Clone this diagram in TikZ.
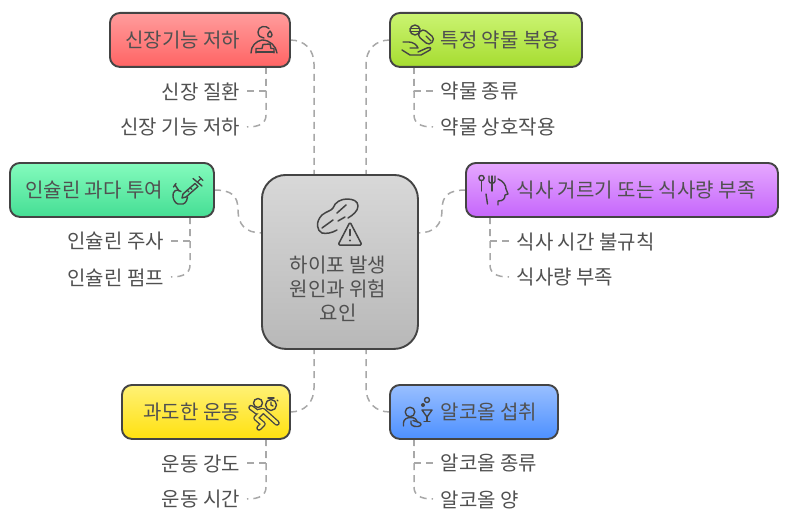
\documentclass[tikz,border=0pt]{standalone}
\usepackage{fontspec}
\setmainfont{Noto Sans CJK KR}
\usetikzlibrary{calc}
\definecolor{ink}{HTML}{444444}
\definecolor{txt}{HTML}{505050}
\definecolor{wire}{HTML}{A8A8A8}
\tikzset{
 x=1pt,y=-1pt,
 card/.style={draw=ink,line width=1.9pt,rounded corners=10pt,inner sep=0pt,anchor=north west},
 lab/.style={text=txt,font=\fontsize{20}{24}\selectfont,inner sep=0pt},
 wirec/.style={draw=wire,line width=1.5pt,dash pattern=on 7pt off 5pt,rounded corners=0pt},
 icon/.style={draw=ink,line width=1.4pt,line cap=round,line join=round,fill=none},
}
\newcommand{\card}[7]{\node[card,minimum width=#4pt-#2pt,minimum height=#5pt-#3pt,top color=#6,bottom color=#7] (#1) at (#2-1,#3-1) {};}
\begin{document}
\begin{tikzpicture}
\useasboundingbox (0,0) rectangle (789,524);
\definecolor{r1}{HTML}{FF9C9C}\definecolor{r2}{HTML}{FF6464}
\definecolor{g1}{HTML}{CBF472}\definecolor{g2}{HTML}{A6DC30}
\definecolor{m1}{HTML}{84FBBD}\definecolor{m2}{HTML}{45DE94}
\definecolor{p1}{HTML}{E6A8FF}\definecolor{p2}{HTML}{C566FB}
\definecolor{y1}{HTML}{FFF176}\definecolor{y2}{HTML}{FFE10F}
\definecolor{b1}{HTML}{99BFFF}\definecolor{b2}{HTML}{4D90FF}
\definecolor{c1}{HTML}{D8D8D8}\definecolor{c2}{HTML}{B8B8B8}
% free ends
\coordinate (hn1) at (314,175);\coordinate (hn2) at (366,175);
\coordinate (hs1) at (314,349);\coordinate (hs2) at (366,349);
\coordinate (hw) at (262,233);\coordinate (he) at (418,233);
\coordinate (rE) at (290,40);\coordinate (lW) at (390,40);
\coordinate (mE) at (214,190);\coordinate (pW) at (466,190);
\coordinate (yE) at (290,412);\coordinate (bW) at (390,412);
\draw[wirec] (rE) .. controls (305,40) and (314,50) .. (314,64) -- (hn1);
\draw[wirec] (lW) .. controls (375,40) and (366,50) .. (366,64) -- (hn2);
\draw[wirec] (yE) .. controls (305,412) and (314,402) .. (314,388) -- (hs1);
\draw[wirec] (bW) .. controls (375,412) and (366,402) .. (366,388) -- (hs2);
\draw[wirec] (mE) .. controls (232,190) and (238,196) .. (238,210) .. controls (238,224) and (245,233) .. (hw);
\draw[wirec] (pW) .. controls (448,190) and (442,196) .. (442,210) .. controls (442,224) and (435,233) .. (he);
% sub connectors
\draw[wirec] (266,67) -- (266,91) -- (247,91);
\draw[wirec] (266,67) -- (266,115) .. controls (266,123) and (260,127) .. (247,127);
\draw[wirec] (414,67) -- (414,91) -- (433,91);
\draw[wirec] (414,67) -- (414,115) .. controls (414,123) and (420,127) .. (433,127);
\draw[wirec] (190,217) -- (190,241) -- (171,241);
\draw[wirec] (190,217) -- (190,265) .. controls (190,273) and (184,277) .. (171,277);
\draw[wirec] (490,217) -- (490,241) -- (509,241);
\draw[wirec] (490,217) -- (490,265) .. controls (490,273) and (496,277) .. (509,277);
\draw[wirec] (266,439) -- (266,463) -- (247,463);
\draw[wirec] (266,439) -- (266,487) .. controls (266,495) and (260,499) .. (247,499);
\draw[wirec] (414,439) -- (414,463) -- (433,463);
\draw[wirec] (414,439) -- (414,487) .. controls (414,495) and (420,499) .. (433,499);
% boxes
\card{red}{110}{13}{290}{67}{r1}{r2}
\card{lime}{390}{13}{582}{67}{g1}{g2}
\card{mint}{10}{163}{214}{217}{m1}{m2}
\card{purple}{466}{163}{778}{217}{p1}{p2}
\card{yellow}{122}{385}{290}{439}{y1}{y2}
\card{blue}{390}{385}{558}{439}{b1}{b2}
\node[card,rounded corners=24pt,minimum width=156pt,minimum height=174pt,top color=c1,bottom color=c2] (hub) at (261,174) {};
% labels
\node[lab,anchor=west] (t1) at (125,40.5) {신장기능 저하};
\node[lab,anchor=east] (t1a) at (240,91.5) {신장 질환};
\node[lab,anchor=east] (t1b) at (240,127.5) {신장 기능 저하};
\node[lab,anchor=west] (t2) at (440.5,40.5) {특정 약물 복용};
\node[lab,anchor=west] (t2a) at (440.5,91.5) {약물 종류};
\node[lab,anchor=west] (t2b) at (440.5,127.5) {약물 상호작용};
\node[lab,anchor=west] (t3) at (25,190.5) {인슐린 과다 투여};
\node[lab,anchor=east] (t3a) at (164,241.5) {인슐린 주사};
\node[lab,anchor=east] (t3b) at (164,277.5) {인슐린 펌프};
\node[lab,anchor=west] (t4) at (516.5,190.5) {식사 거르기 또는 식사량 부족};
\node[lab,anchor=west] (t4a) at (516.5,241.5) {식사 시간 불규칙};
\node[lab,anchor=west] (t4b) at (516.5,277.5) {식사량 부족};
\node[lab,anchor=east] (t5) at (240,412.5) {과도한 운동};
\node[lab,anchor=east] (t5a) at (240,463.5) {운동 강도};
\node[lab,anchor=east] (t5b) at (240,499.5) {운동 시간};
\node[lab,anchor=west] (t6) at (440.5,412.5) {알코올 섭취};
\node[lab,anchor=west] (t6a) at (440.5,463.5) {알코올 종류};
\node[lab,anchor=west] (t6b) at (440.5,499.5) {알코올 양};
\node[lab,align=center] (hubt) at (338,288.5) {하이포 발생\\원인과 위험\\요인};
% icon: red (person with tear and bed)
\begin{scope}[icon]
\draw (269,28.5) .. controls (266,25) and (258,26) .. (258,32) .. controls (258,36) and (261,38) .. (264,38);
\draw (270,31) .. controls (268,33) and (267,35) .. (268,36.5) .. controls (270,38) and (272,37) .. (272,35) .. controls (272,34) and (271,32) .. (270,31);
\draw (251,53) .. controls (251,46) and (256,41) .. (262,40) .. controls (270,40) and (276,46) .. (277,53);
\draw (256,53) -- (256,48.5) -- (262,48.5) -- (263,44.5) -- (270,44) -- (271,48.5) -- (274,48.5) -- (274,53);
\draw (256,52) -- (274,52);
\end{scope}
% icon: lime (hand with pill)
\begin{scope}[icon]
\draw (415,30) circle (5);\draw (410,28.5) -- (420,28.5);\draw (410,31.5) -- (420,31.5);
\draw[rounded corners=4pt,rotate around={-40:(426,37)}] (418,32.5) rectangle (434,41.5);
\draw (426,36) -- (431,41);
\draw (403,42) -- (409,42) .. controls (413,42) and (417,45) .. (418,48) -- (410,48);
\draw (402,50) -- (410,55) -- (421,55) -- (430,50) .. controls (432,47) and (429,47) .. (427,48) -- (418,52);
\end{scope}
% icon: mint (apple + syringe)
\begin{scope}[icon]
\draw (181,191.5) .. controls (177,188) and (172,191) .. (173,197) .. controls (174,202) and (177,205) .. (180.5,204) .. controls (184,205) and (187,202) .. (187.5,197);
\draw (179,191) -- (175,185);\draw (173.5,187) -- (176,183.5);
\draw (183,194) -- (182,198) -- (186,197);
\draw (183,194) -- (195,183.5) -- (198,186.5) -- (186,197);
\draw (193,178.5) -- (202,186);
\draw (197.5,182) -- (201,178.5);\draw (199,176.5) -- (203,180.5);
\draw (187,190) -- (189,192) (190,187.5) -- (192,189.5);
\end{scope}
% icon: purple (fork / head)
\begin{scope}[icon]
\draw (481.5,178) circle (2.6);\draw (481.5,181) -- (481.5,191);
\draw (489,176) -- (489,181) .. controls (489,184) and (495,184) .. (495,181) -- (495,176);
\draw (492,176) -- (492,191);
\draw (486,194) -- (487.5,204);
\draw (498,179) .. controls (503,181) and (506,185) .. (506,189) -- (508,194) -- (505,195) .. controls (505,199) and (503,201) .. (498,201) -- (498,205);
\end{scope}
% icon: yellow (runner + stopwatch)
\begin{scope}[icon]
\draw (271,405) circle (5.5);\draw (271,402) -- (271,405) -- (273,406);
\draw (268,398) -- (274,398);\draw (271,398) -- (271,399.5);\draw (277,400) -- (278,401);
\draw (258,403) circle (4.5);
\path[draw=ink,line width=5.5pt,line cap=round,line join=round] (251,407.5) -- (257,412) -- (263,410.5) -- (277,423) (263,411) -- (256,418) -- (263,424) -- (259,428);
\path[draw=y1!60!y2,line width=2.8pt,line cap=round,line join=round] (251,407.5) -- (257,412) -- (263,410.5) -- (277,423) (263,411) -- (256,418) -- (263,424) -- (259,428);
\end{scope}
% icon: blue (person + glass)
\begin{scope}[icon]
\draw (410,412) circle (4.8);
\draw (403.5,426) -- (403.5,423) .. controls (403.5,419) and (407,417.5) .. (411,417.5) .. controls (415,417.5) and (417,420) .. (417.5,422);
\draw (411,421) .. controls (410,425) and (413,427) .. (418,426.5) .. controls (422,426) and (422,423) .. (418,422) -- (413,420.5);
\draw (427,400) circle (2.5);
\fill[ink] (423,405) circle (2);
\draw (422,410) -- (432,410) -- (427,417) -- cycle;
\draw (427,417) -- (427,421);\draw (424,421.5) -- (430,421.5);
\end{scope}
% icon: hub (peanut + warning)
\begin{scope}[icon,line width=1.5pt]
\draw (337,230) .. controls (332,233) and (326,234) .. (322,233) .. controls (317,231) and (315,222) .. (322,215) .. controls (327,211) and (331,211) .. (333,208) .. controls (335,202) and (341,199) .. (347,199) .. controls (353,199) and (358,201) .. (358,206) .. controls (358,211) and (353,215) .. (348,218);
\draw (337,213) -- (346,205) (322,228) -- (333,220) (338,221) -- (345,217);
\draw[rounded corners=1.5pt] (350,222) -- (362,245) -- (338,245) -- cycle;
\draw (350,229.5) -- (350,235.5);
\fill[ink] (350,240.5) circle (1.1);
\end{scope}
\end{tikzpicture}
\end{document}
